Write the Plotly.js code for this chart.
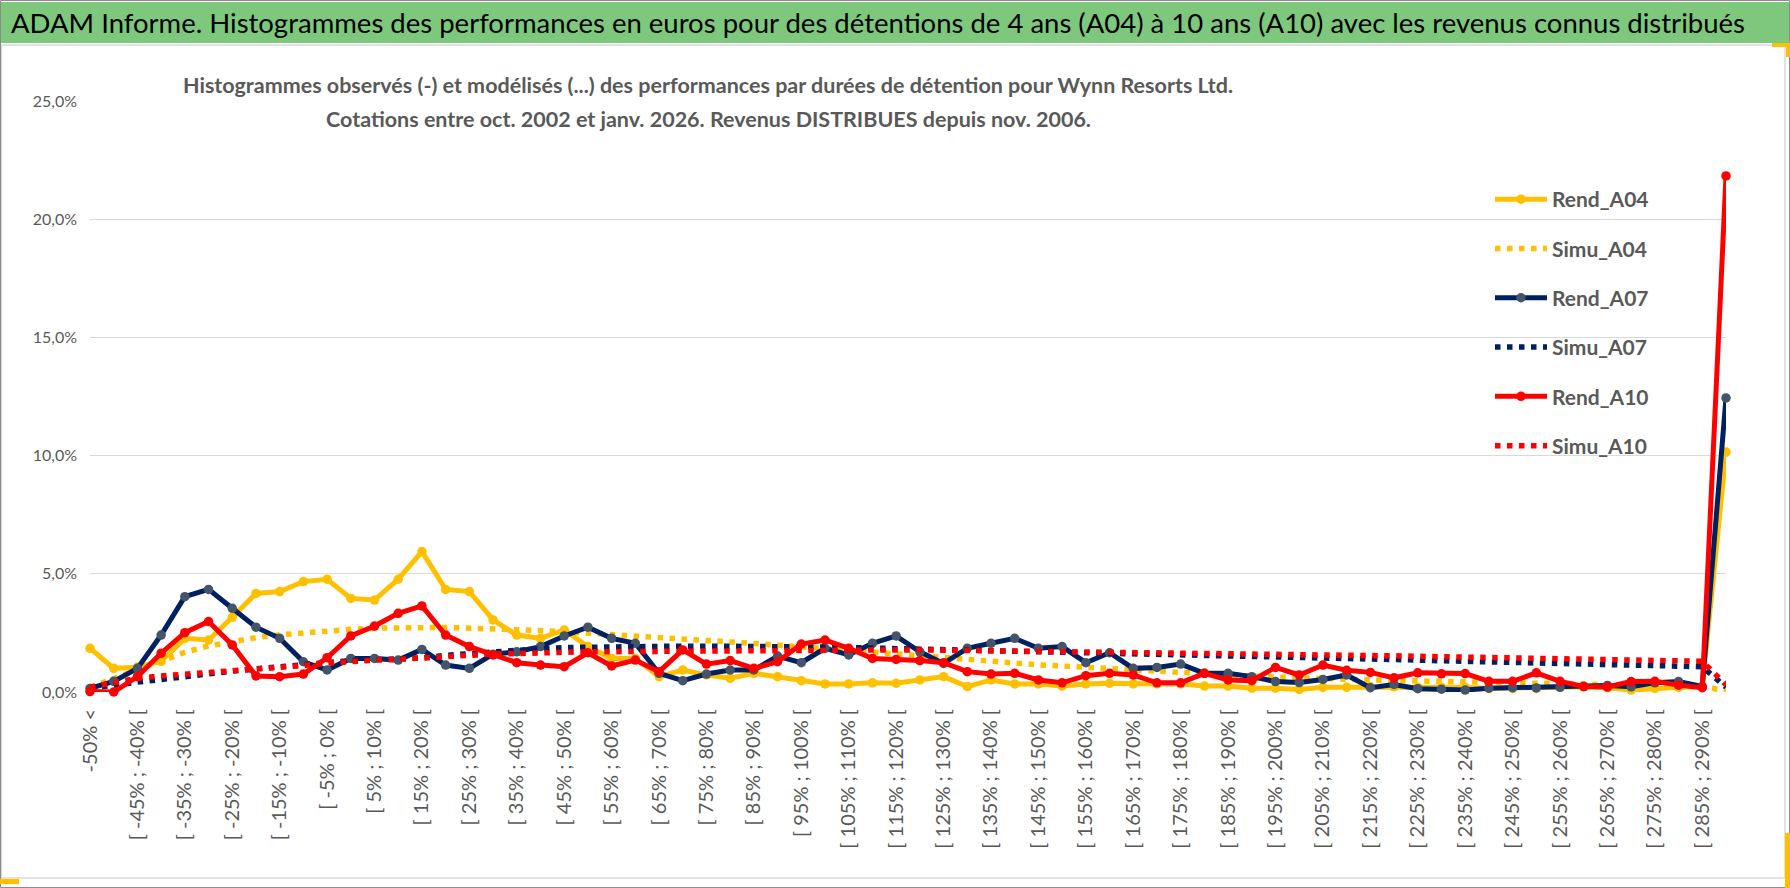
<!DOCTYPE html>
<html>
<head>
<meta charset="utf-8">
<script src="https://cdn.plot.ly/plotly-3.0.1.min.js"></script>
<style>html,body{margin:0;padding:0;background:#fff;}#chart{width:1790px;height:888px;}</style>
</head>
<body>
<div id="chart"></div>
<script>
const categories = ["-50% <","[ -50% ; -45% [","[ -45% ; -40% [","[ -40% ; -35% [","[ -35% ; -30% [","[ -30% ; -25% [","[ -25% ; -20% [","[ -20% ; -15% [","[ -15% ; -10% [","[ -10% ; -5% [",
"[ -5% ; 0% [","[ 0% ; 5% [","[ 5% ; 10% [","[ 10% ; 15% [","[ 15% ; 20% [","[ 20% ; 25% [","[ 25% ; 30% [","[ 30% ; 35% [","[ 35% ; 40% [","[ 40% ; 45% [",
"[ 45% ; 50% [","[ 50% ; 55% [","[ 55% ; 60% [","[ 60% ; 65% [","[ 65% ; 70% [","[ 70% ; 75% [","[ 75% ; 80% [","[ 80% ; 85% [","[ 85% ; 90% [","[ 90% ; 95% [",
"[ 95% ; 100% [","[ 100% ; 105% [","[ 105% ; 110% [","[ 110% ; 115% [","[ 115% ; 120% [","[ 120% ; 125% [","[ 125% ; 130% [","[ 130% ; 135% [","[ 135% ; 140% [","[ 140% ; 145% [",
"[ 145% ; 150% [","[ 150% ; 155% [","[ 155% ; 160% [","[ 160% ; 165% [","[ 165% ; 170% [","[ 170% ; 175% [","[ 175% ; 180% [","[ 180% ; 185% [","[ 185% ; 190% [","[ 190% ; 195% [",
"[ 195% ; 200% [","[ 200% ; 205% [","[ 205% ; 210% [","[ 210% ; 215% [","[ 215% ; 220% [","[ 220% ; 225% [","[ 225% ; 230% [","[ 230% ; 235% [","[ 235% ; 240% [","[ 240% ; 245% [",
"[ 245% ; 250% [","[ 250% ; 255% [","[ 255% ; 260% [","[ 260% ; 265% [","[ 265% ; 270% [","[ 270% ; 275% [","[ 275% ; 280% [","[ 280% ; 285% [","[ 285% ; 290% [","> 290%"];

const rendA04 = [1.85,1.00,1.05,1.30,2.27,2.20,3.16,4.17,4.25,4.67, 4.77,3.96,3.89,4.77,5.94,4.34,4.25,3.05,2.41,2.27, 2.62,1.92,1.42,1.42,0.65,0.93,0.72,0.58,0.79,0.65, 0.48,0.34,0.34,0.39,0.37,0.51,0.65,0.23,0.51,0.34, 0.34,0.25,0.34,0.37,0.34,0.34,0.34,0.25,0.25,0.16, 0.16,0.11,0.20,0.20,0.22,0.22,0.20,0.20,0.20,0.15, 0.15,0.15,0.20,0.22,0.18,0.08,0.15,0.20,0.22,10.15];
const simuA04 = [0.20,0.55,0.90,1.30,1.68,1.95,2.12,2.30,2.42,2.50, 2.60,2.65,2.70,2.72,2.75,2.73,2.70,2.68,2.64,2.60, 2.55,2.48,2.43,2.37,2.30,2.24,2.18,2.12,2.06,2.00, 1.93,1.85,1.77,1.69,1.61,1.53,1.45,1.36,1.30,1.22, 1.15,1.10,1.04,0.99,0.93,0.87,0.82,0.77,0.72,0.67, 0.63,0.59,0.55,0.53,0.51,0.49,0.47,0.45,0.43,0.41, 0.39,0.37,0.35,0.33,0.31,0.29,0.27,0.25,0.23,0.05];
const rendA07 = [0.15,0.45,1.00,2.41,4.03,4.34,3.54,2.74,2.27,1.28, 0.93,1.42,1.42,1.35,1.80,1.14,1.00,1.60,1.70,1.92, 2.37,2.74,2.27,2.06,0.79,0.48,0.76,0.93,0.93,1.52, 1.24,1.85,1.57,2.06,2.37,1.70,1.21,1.85,2.06,2.27, 1.85,1.92,1.24,1.66,1.00,1.04,1.18,0.79,0.79,0.65, 0.44,0.40,0.53,0.72,0.18,0.32,0.14,0.12,0.08,0.16, 0.18,0.17,0.20,0.24,0.28,0.22,0.39,0.44,0.24,12.44];
const simuA07 = [0.15,0.30,0.42,0.53,0.66,0.80,0.88,0.98,1.06,1.14, 1.26,1.33,1.36,1.39,1.44,1.55,1.63,1.71,1.77,1.83, 1.88,1.90,1.92,1.93,1.93,1.94,1.94,1.94,1.94,1.93, 1.92,1.90,1.88,1.86,1.84,1.82,1.80,1.78,1.76,1.74, 1.72,1.70,1.68,1.66,1.64,1.62,1.60,1.58,1.56,1.54, 1.52,1.50,1.47,1.44,1.41,1.38,1.35,1.32,1.30,1.27, 1.24,1.22,1.20,1.18,1.15,1.13,1.11,1.09,1.07,0.20];
const rendA10 = [0.02,0.00,0.65,1.64,2.51,2.98,1.99,0.68,0.65,0.76, 1.45,2.37,2.79,3.33,3.64,2.41,1.92,1.57,1.24,1.14, 1.07,1.66,1.10,1.35,0.86,1.78,1.18,1.33,1.00,1.28, 2.03,2.20,1.85,1.42,1.38,1.33,1.24,0.86,0.76,0.79, 0.51,0.39,0.69,0.79,0.72,0.39,0.39,0.79,0.51,0.48, 1.04,0.72,1.14,0.92,0.83,0.60,0.81,0.77,0.78,0.45, 0.45,0.81,0.45,0.23,0.21,0.44,0.45,0.29,0.18,21.83];
const simuA10 = [0.20,0.40,0.58,0.68,0.75,0.80,0.86,0.98,1.05,1.12, 1.22,1.30,1.35,1.38,1.42,1.48,1.55,1.60,1.64,1.67, 1.68,1.70,1.71,1.72,1.73,1.74,1.75,1.76,1.77,1.78, 1.78,1.78,1.78,1.78,1.78,1.78,1.77,1.76,1.75,1.74, 1.73,1.72,1.71,1.70,1.69,1.68,1.67,1.66,1.65,1.64, 1.62,1.60,1.57,1.56,1.54,1.53,1.51,1.50,1.48,1.46, 1.44,1.42,1.41,1.39,1.37,1.35,1.34,1.32,1.30,0.30];

const seriesNames = ["Rend_A04","Simu_A04","Rend_A07","Simu_A07","Rend_A10","Simu_A10"];
const yTicks = [0,5,10,15,20,25];
const yTickLabels = ["0,0%","5,0%","10,0%","15,0%","20,0%","25,0%"];

const bannerText = "ADAM Informe. Histogrammes des performances en euros pour des détentions de 4 ans (A04) à 10 ans (A10) avec les revenus connus distribués";
const subLine1 = "Histogrammes observés (-) et modélisés (...) des performances par durées de détention pour Wynn Resorts Ltd.";
const subLine2 = "Cotations entre oct. 2002 et janv. 2026. Revenus DISTRIBUES depuis nov. 2006.";

// ---- styling ----
const FONT = "Lato, 'Open Sans', sans-serif";
const GRAY = "#595959";
const GRID = "#d9d9d9";
const YEL = "#FFC000", NAVY = "#002060", NAVYM = "#44546A", RED = "#FF0000";

const FW = 1790, FH = 888, L = 90, R = 1726, T = 101, B = 692;
const PW = R - L, PH = B - T;
const px = x => (x - L) / PW;
const py = y => (B - y) / PH;

const solid = (name, y, color, mcolor, g) => ({
  type: "scatter", mode: "lines+markers", name: name, x: categories, y: y,
  line: {color: color, width: 5}, marker: {color: mcolor, size: 9.5, symbol: "circle"},
  cliponaxis: false, legendgroup: g, hoverinfo: "skip"
});
const dotted = (name, y, color, g) => ({
  type: "scatter", mode: "lines", name: name, x: categories, y: y,
  line: {color: color, width: 5.5, dash: "5.5px,6.5px"},
  cliponaxis: false, legendgroup: g, hoverinfo: "skip"
});

const data = [
  solid(seriesNames[0], rendA04, YEL, YEL, "g1"),
  dotted(seriesNames[1], simuA04, YEL, "g2"),
  solid(seriesNames[2], rendA07, NAVY, NAVYM, "g3"),
  dotted(seriesNames[3], simuA07, NAVY, "g4"),
  solid(seriesNames[4], rendA10, RED, RED, "g5"),
  dotted(seriesNames[5], simuA10, RED, "g6")
];

const labelTicks = categories.filter((c, i) => i % 2 === 0);
const gridTicks = categories.map((c, i) => i).filter(i => i % 4 === 0);

const rectPx = (x0, y0, x1, y1, fill, layer, line) => ({
  type: "rect", xref: "paper", yref: "paper",
  x0: px(x0), x1: px(x1), y0: py(y1), y1: py(y0),
  fillcolor: fill, line: line || {width: 0}, layer: layer
});

const layout = {
  width: FW, height: FH,
  margin: {l: L, r: FW - R, t: T, b: FH - B, pad: 0},
  paper_bgcolor: "#ffffff", plot_bgcolor: "rgba(0,0,0,0)",
  showlegend: true, hovermode: false,
  title: {
    text: bannerText, xref: "container", yref: "container",
    x: 11 / FW, xanchor: "left", y: 1 - 23 / FH, yanchor: "middle",
    font: {family: FONT, size: 27.5, color: "#000000"}
  },
  xaxis: {
    type: "category", categoryorder: "array", categoryarray: categories,
    range: [0, categories.length - 1], fixedrange: true,
    tickmode: "array", tickvals: labelTicks, ticktext: labelTicks,
    tickangle: -90, tickfont: {family: FONT, size: 20, color: GRAY},
    showgrid: false, zeroline: false, showline: false, ticks: "",
    ticklabelstandoff: 12
  },
  xaxis2: {
    overlaying: "x", anchor: "y", side: "bottom", type: "linear",
    range: [0, categories.length - 1], fixedrange: true,
    tickmode: "array", tickvals: gridTicks, showticklabels: false,
    showgrid: true, gridcolor: GRID, gridwidth: 1.3,
    ticks: "outside", ticklen: 7, tickcolor: GRID, tickwidth: 1.3,
    zeroline: false, showline: false
  },
  yaxis: {
    range: [0, 25], fixedrange: true, tickmode: "array", tickvals: yTicks, ticktext: yTickLabels,
    tickfont: {family: FONT, size: 16, color: GRAY},
    showgrid: true, gridcolor: GRID, gridwidth: 1.3,
    zeroline: false, showline: false, ticks: "", ticklabelstandoff: 12
  },
  legend: {
    x: px(1490), xanchor: "left", y: py(179), yanchor: "top",
    bgcolor: "rgba(0,0,0,0)", borderwidth: 0,
    font: {family: FONT, size: 21, color: GRAY, weight: "bold"},
    traceorder: "grouped", tracegroupgap: 19, itemwidth: 52, orientation: "v"
  },
  annotations: [
    {text: subLine1, xref: "paper", yref: "paper", x: px(708), y: py(85), xanchor: "center", yanchor: "middle",
     showarrow: false, font: {family: FONT, size: 21.5, color: GRAY, weight: "bold"}},
    {text: subLine2, xref: "paper", yref: "paper", x: px(708), y: py(119), xanchor: "center", yanchor: "middle",
     showarrow: false, font: {family: FONT, size: 21.5, color: GRAY, weight: "bold"}}
  ],
  shapes: [
    rectPx(0, 2, FW, 43, "#7EC87E", "below"),
    rectPx(1.5, 45, 1785, 878, "rgba(0,0,0,0)", "below", {color: GRID, width: 1.5}),
    rectPx(0.5, 0.5, FW - 0.5, FH - 0.5, "rgba(0,0,0,0)", "above", {color: "#8c8c8c", width: 1}),
    rectPx(0, 879, 19, 884, YEL, "above"),
    rectPx(1785, 833, FW, FH, YEL, "above"),
    rectPx(1772, 43, FW, 47, YEL, "above"),
    rectPx(1786, 43, FW, 57, YEL, "above"),
    rectPx(171, 55, 1250, 136, "#ffffff", "between"),
    rectPx(1438, 175, 1705, 480, "#ffffff", "between")
  ]
};

Plotly.newPlot("chart", data, layout, {displayModeBar: false, staticPlot: true});
</script>
</body>
</html>
